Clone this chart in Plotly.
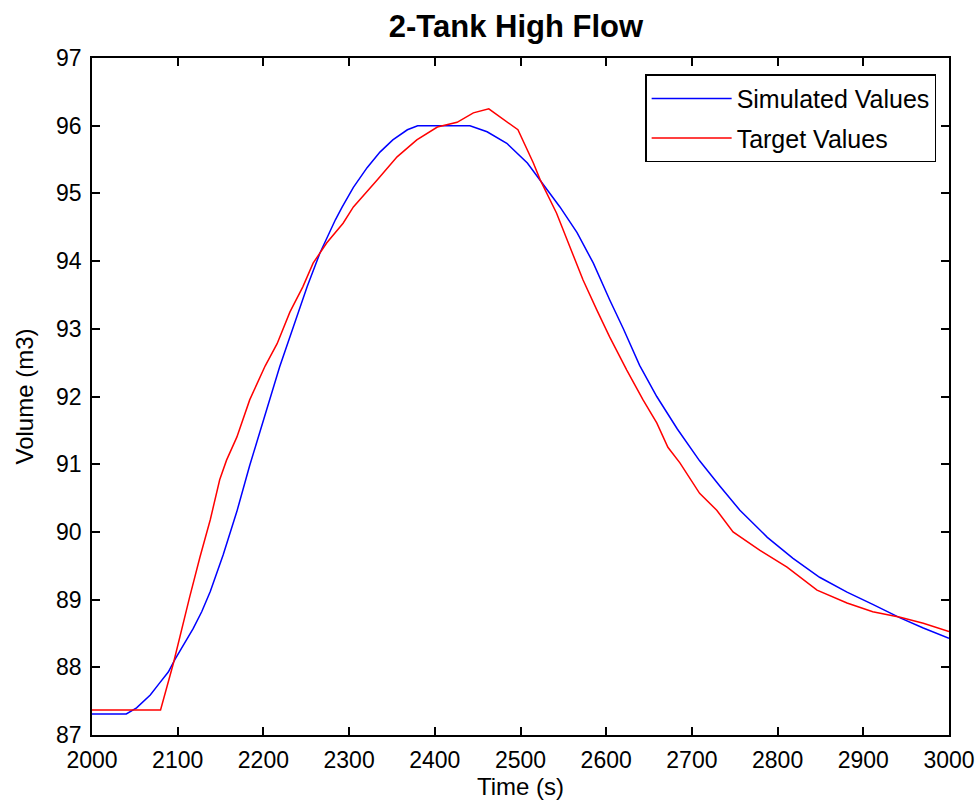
import plotly.graph_objects as go

# Simulated values (blue)
sim_t = [2000, 2040, 2052, 2068, 2079, 2089, 2097, 2109, 2118, 2128, 2138, 2153, 2169, 2184,
         2204, 2219, 2235, 2251, 2266, 2284, 2292, 2305, 2321, 2336, 2351, 2368, 2380,
         2441, 2461, 2484, 2508, 2526, 2546, 2566, 2585, 2604, 2620, 2639, 2659, 2683,
         2709, 2733, 2756, 2788, 2818, 2849, 2881, 2911, 2943, 2970, 3000]
sim_v = [87.31, 87.31, 87.40, 87.59, 87.77, 87.93, 88.12, 88.37, 88.57, 88.82, 89.12, 89.66, 90.30, 90.98,
         91.82, 92.44, 93.03, 93.62, 94.12, 94.61, 94.80, 95.09, 95.38, 95.61, 95.79, 95.94, 96.00,
         96.00, 95.91, 95.74, 95.45, 95.15, 94.80, 94.42, 93.97, 93.43, 93.00, 92.46, 92.00, 91.52,
         91.05, 90.67, 90.32, 89.92, 89.61, 89.33, 89.11, 88.93, 88.73, 88.58, 88.43]

# Target values (red)
tgt_t = [2000, 2080, 2095, 2105, 2114, 2126, 2138, 2149, 2157, 2169, 2184, 2202, 2216, 2231,
         2246, 2258, 2274, 2293, 2305, 2333, 2356, 2379, 2403, 2426, 2445, 2463, 2476, 2497,
         2515, 2523, 2542, 2558, 2573, 2589, 2604, 2624, 2643, 2659, 2672, 2686, 2709, 2729,
         2748, 2779, 2811, 2846, 2881, 2911, 2943, 2970, 3000]
tgt_v = [87.37, 87.37, 88.06, 88.60, 89.04, 89.63, 90.18, 90.77, 91.06, 91.40, 91.95, 92.45, 92.78, 93.25,
         93.62, 93.97, 94.27, 94.56, 94.80, 95.20, 95.54, 95.79, 95.98, 96.05, 96.19, 96.25, 96.13, 95.94,
         95.45, 95.20, 94.71, 94.21, 93.72, 93.28, 92.88, 92.39, 91.95, 91.61, 91.25, 91.02, 90.57, 90.32,
         90.00, 89.73, 89.48, 89.14, 88.95, 88.82, 88.74, 88.65, 88.53]

x_ticks = [2000, 2100, 2200, 2300, 2400, 2500, 2600, 2700, 2800, 2900, 3000]
y_ticks = [87, 88, 89, 90, 91, 92, 93, 94, 95, 96, 97]

FONT = "Liberation Sans, Arial, sans-serif"

fig = go.Figure()
fig.add_trace(go.Scatter(x=sim_t, y=sim_v, mode="lines", name="Simulated Values",
                         line=dict(color="rgb(0,0,255)", width=1.5), legendgroup="a"))
fig.add_trace(go.Scatter(x=tgt_t, y=tgt_v, mode="lines", name="Target Values",
                         line=dict(color="rgb(255,0,0)", width=1.5), legendgroup="b"))

axis_common = dict(showline=True, linecolor="black", linewidth=1.5, mirror="ticks",
                   ticks="inside", ticklen=8, tickwidth=1.5, tickcolor="black",
                   showgrid=False, zeroline=False, automargin=False,
                   tickfont=dict(family=FONT, size=23, color="black"))

fig.update_layout(
    width=979, height=807,
    margin=dict(l=92, r=30, t=58, b=72, autoexpand=False),
    paper_bgcolor="white", plot_bgcolor="white",
    title=dict(text="<b>2-Tank High Flow</b>", x=0.527, xanchor="center", y=0.968, yanchor="middle",
               font=dict(family=FONT, size=31, color="black")),
    xaxis=dict(range=[2000, 3000], tickvals=x_ticks, ticktext=[str(v) for v in x_ticks],
               ticklabelstandoff=4,
               title=dict(text="Time (s)", font=dict(family=FONT, size=24, color="black"), standoff=2),
               **axis_common),
    yaxis=dict(range=[87, 97], tickvals=y_ticks, ticktext=[str(v) for v in y_ticks],
               ticklabelstandoff=4,
               title=dict(text="Volume (m3)", font=dict(family=FONT, size=24, color="black"), standoff=16),
               **axis_common),
    legend=dict(x=0.985, xanchor="right", y=0.976, yanchor="top",
                bordercolor="black", borderwidth=1.5, bgcolor="white",
                font=dict(family=FONT, size=25, color="black"),
                tracegroupgap=4, itemwidth=80),
    showlegend=True,
)

fig.write_html("out.html")
